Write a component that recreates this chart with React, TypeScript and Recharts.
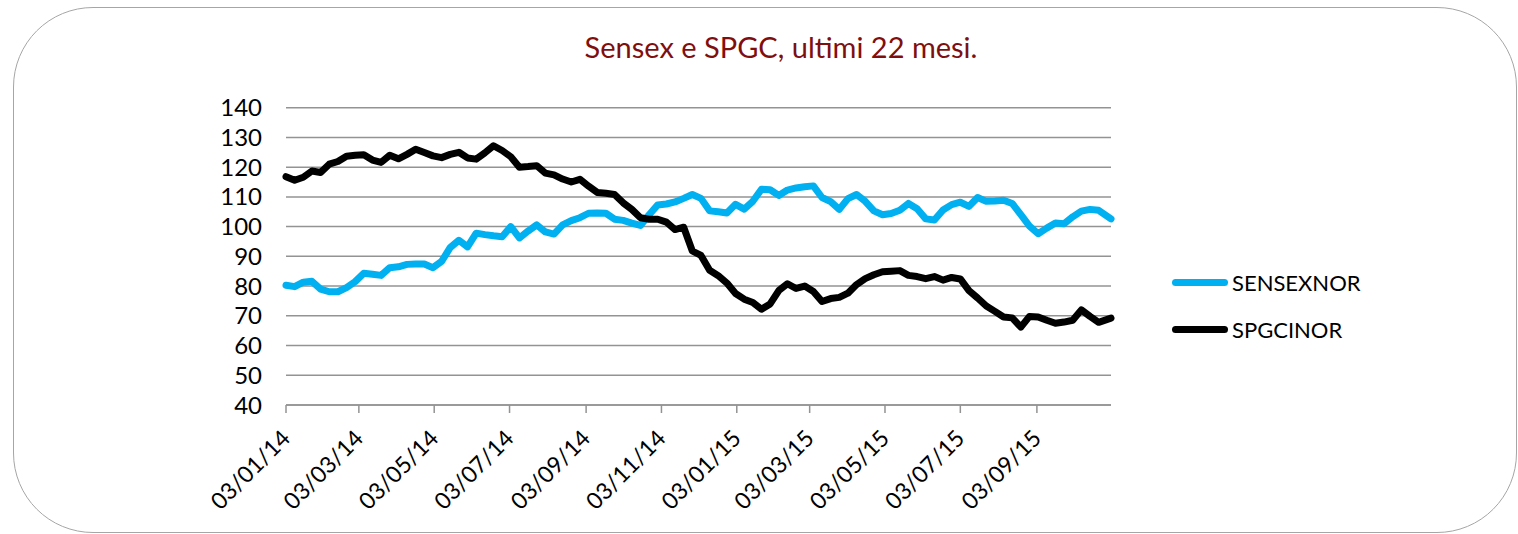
import { LineChart, Line, XAxis, YAxis, CartesianGrid, Legend } from "recharts"

const DAY = 24 * 3600 * 1000
const startDate = Date.UTC(2014, 0, 3)
const endDate = Date.UTC(2015, 10, 2)

// weekly closes, rebased (last point is the latest close, 02/11/15)
const sensexValues = [
  80.3, 79.8, 81.3, 81.6, 79.0, 78.1, 78.1, 79.5, 81.5, 84.3,
  84.0, 83.6, 86.2, 86.5, 87.3, 87.4, 87.4, 86.2, 88.3, 93.0,
  95.4, 93.2, 97.8, 97.3, 96.9, 96.6, 100.0, 96.2, 98.5, 100.6,
  98.2, 97.5, 100.6, 102.0, 103.0, 104.5, 104.6, 104.5, 102.5, 102.1,
  101.2, 100.4, 104.0, 107.3, 107.6, 108.3, 109.5, 110.8, 109.5, 105.3,
  105.0, 104.6, 107.5, 105.9, 108.5, 112.6, 112.4, 110.5, 112.3, 113.0,
  113.4, 113.7, 109.8, 108.4, 105.8, 109.4, 110.8, 108.5, 105.3, 104.0,
  104.4, 105.5, 107.8, 106.0, 102.6, 102.2, 105.6, 107.4, 108.2, 106.8,
  109.8, 108.5, 108.6, 108.9, 107.8, 104.0, 100.2, 97.6, 99.5, 101.2,
  101.0, 103.3, 105.2, 105.8, 105.5, 102.6,
]

const spgcValues = [
  116.8, 115.6, 116.6, 118.7, 118.2, 121.0, 121.9, 123.7, 124.0, 124.2,
  122.4, 121.6, 124.0, 122.8, 124.3, 126.0, 124.9, 123.8, 123.2, 124.3,
  125.0, 123.1, 122.7, 124.8, 127.2, 125.6, 123.5, 120.0, 120.2, 120.5,
  118.0, 117.4, 116.0, 115.0, 115.9, 113.6, 111.5, 111.2, 110.8, 108.0,
  105.8, 103.0, 102.5, 102.5, 101.5, 99.0, 99.8, 91.8, 90.3, 85.3,
  83.5, 81.0, 77.5, 75.6, 74.5, 72.2, 74.0, 78.5, 80.8, 79.2,
  80.0, 78.2, 74.8, 75.8, 76.2, 77.6, 80.5, 82.5, 83.8, 84.8,
  85.0, 85.2, 83.6, 83.2, 82.5, 83.2, 82.0, 82.9, 82.4, 78.5,
  76.0, 73.3, 71.5, 69.6, 69.3, 66.2, 69.8, 69.6, 68.5, 67.5,
  67.9, 68.5, 72.0, 69.8, 67.8, 69.2,
]

const yTicks = [40, 50, 60, 70, 80, 90, 100, 110, 120, 130, 140]

const xTicks = [
  Date.UTC(2014, 0, 3), Date.UTC(2014, 2, 3), Date.UTC(2014, 4, 3), Date.UTC(2014, 6, 3),
  Date.UTC(2014, 8, 3), Date.UTC(2014, 10, 3), Date.UTC(2015, 0, 3), Date.UTC(2015, 2, 3),
  Date.UTC(2015, 4, 3), Date.UTC(2015, 6, 3), Date.UTC(2015, 8, 3),
]

// Fridays from 03/01/14, last observation on 02/11/15
const dates = sensexValues.map((_, i) =>
  i === sensexValues.length - 1 ? endDate : startDate + i * 7 * DAY
)

const data = dates.map((d, i) => ({
  date: d,
  SENSEXNOR: sensexValues[i],
  SPGCINOR: spgcValues[i],
}))

const font = "Lato, 'Open Sans', sans-serif"

const pad = (n: number) => String(n).padStart(2, "0")
const fmtDate = (t: number) => {
  const d = new Date(t)
  return `${pad(d.getUTCDate())}/${pad(d.getUTCMonth() + 1)}/${pad(d.getUTCFullYear() % 100)}`
}

const DateTick = (props: any) => {
  const { x, y, payload } = props
  return (
    <g transform={`translate(${x},${y + 19})`}>
      <text
        textAnchor="end"
        dy="0.35em"
        transform="rotate(-45)"
        fontSize={23}
        fontFamily={font}
        fill="#000"
      >
        {fmtDate(payload.value)}
      </text>
    </g>
  )
}

const series = [
  { key: "SENSEXNOR", color: "#00B0F0" },
  { key: "SPGCINOR", color: "#000000" },
]

const LegendBox = () => (
  <div style={{ fontFamily: font, fontSize: 22, color: "#000" }}>
    {series.map((s) => (
      <div key={s.key} style={{ display: "flex", alignItems: "center", height: 47 }}>
        <div style={{ width: 56, height: 7, borderRadius: 3.5, background: s.color, marginRight: 4 }} />
        <span>{s.key}</span>
      </div>
    ))}
  </div>
)

export default function App() {
  return (
    <div style={{ position: "absolute", left: 0, top: 0, width: 1518, height: 534, background: "#fff" }}>
      <div
        style={{
          position: "absolute",
          left: 13,
          top: 7,
          width: 1502,
          height: 524,
          border: "1px solid #a6a6a6",
          borderRadius: 80,
        }}
      />
      <div
        style={{
          position: "absolute",
          left: 0,
          top: 29,
          width: 1562,
          textAlign: "center",
          fontFamily: font,
          fontSize: 29,
          lineHeight: "36px",
          color: "#7f0f0f",
        }}
      >
        Sensex e SPGC, ultimi 22 mesi.
      </div>
      <div style={{ position: "absolute", left: 0, top: 0 }}>
        <LineChart
          width={1518}
          height={534}
          data={data}
          margin={{ top: 107.7, right: 407, bottom: 29, left: 0 }}
        >
          <CartesianGrid vertical={false} stroke="#939393" strokeWidth={1.5} />
          <XAxis
            dataKey="date"
            type="number"
            domain={[startDate, endDate]}
            ticks={xTicks}
            height={100}
            stroke="#939393"
            strokeWidth={1.5}
            tickSize={8}
            tick={<DateTick />}
            interval={0}
          />
          <YAxis
            domain={[40, 140]}
            ticks={yTicks}
            width={286}
            axisLine={false}
            tickLine={false}
            tickSize={0}
            tickMargin={24}
            tick={{ fontSize: 24, fontFamily: font, fill: "#000" }}
            interval={0}
          />
          <Legend
            layout="vertical"
            verticalAlign="middle"
            align="center"
            content={<LegendBox />}
            wrapperStyle={{ left: 1172, top: 259, width: 250 }}
          />
          {series.map((s) => (
            <Line
              key={s.key}
              dataKey={s.key}
              stroke={s.color}
              strokeWidth={7}
              dot={false}
              strokeLinejoin="round"
              strokeLinecap="round"
              isAnimationActive={false}
            />
          ))}
        </LineChart>
      </div>
    </div>
  )
}
